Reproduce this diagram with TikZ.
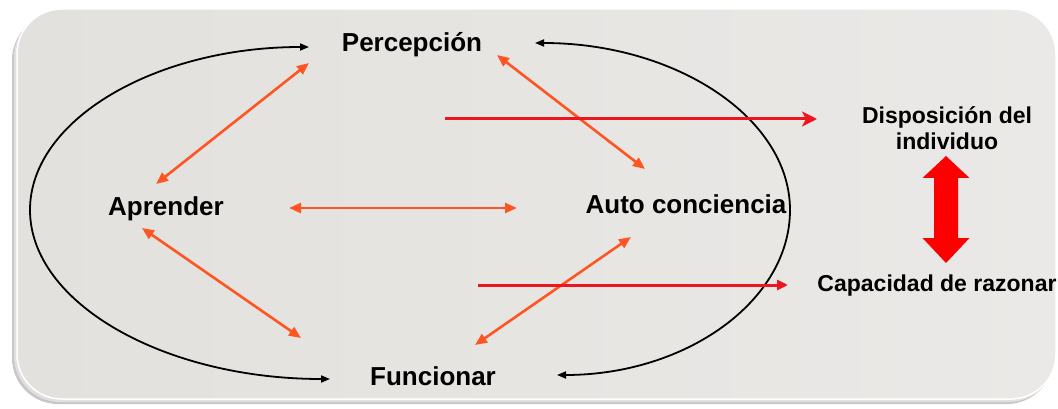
\documentclass[tikz,border=0pt]{standalone}
\usepackage{fontspec}
\setmainfont{Liberation Sans}
\usetikzlibrary{arrows.meta}
\definecolor{panelgray}{RGB}{227,225,221}
\definecolor{panellight}{RGB}{234,233,231}
\definecolor{arrorange}{RGB}{255,85,35}
\definecolor{arrred}{RGB}{238,22,30}
\begin{document}
\begin{tikzpicture}[x=1pt,y=-1pt,
    lbl/.style={font=\fontsize{26}{31}\selectfont\bfseries,inner sep=0pt},
    lblsmall/.style={font=\fontsize{23}{26}\selectfont\bfseries,inner sep=0pt,align=center},
    cycle/.style={{Triangle[length=9pt,width=7pt]}-{Triangle[length=9pt,width=7pt]},line width=1.8pt,black},
    link/.style={{Triangle[length=12pt,width=10pt]}-{Triangle[length=12pt,width=10pt]},line width=2.6pt,arrorange},
    towards/.style={-{Stealth[length=15pt,width=15pt,inset=4pt]},line width=3pt,arrred}]
        \useasboundingbox (0,0) rectangle (1058,409);
        \fill[white] (0,0) rectangle (1058,409);
        %panel
        \fill[black!22,rounded corners=46] (12,14) rectangle (1053,404);
        \fill[black!12,rounded corners=46] (14,11) rectangle (1055,402);
        \shade[left color=panelgray,right color=panellight,rounded corners=45] (17,9) rectangle (1056,399);
        \draw[white,line width=1.5pt,rounded corners=45] (17,9) rectangle (1056,399);

        %labels
        \node[lbl,anchor=base] (perc) at (412,52) {Percepción};
        \node[lbl,anchor=base] (apr) at (166,215) {Aprender};
        \node[lbl,anchor=base] (auto) at (686,214) {Auto conciencia};
        \node[lbl,anchor=base] (func) at (433,385) {Funcionar};
        \node[lblsmall] (disp) at (947,128) {Disposición del\\individuo};
        \node[lblsmall,anchor=base] (cap) at (937,291) {Capacidad de razonar};

        %ends
        \coordinate (pa) at (309,63);  \coordinate (ap) at (156,184);
        \coordinate (aa) at (289,208); \coordinate (au) at (517,208);
        \coordinate (af) at (142,228); \coordinate (fa) at (301,338);
        \coordinate (fu) at (475,345); \coordinate (uf) at (631,237);
        \coordinate (pu) at (497,55);  \coordinate (up) at (645,169);
        \coordinate (d0) at (445,119); \coordinate (d1) at (817,119);
        \coordinate (c0) at (478,285); \coordinate (c1) at (788,285);

        %cycle
        \draw[cycle] (309,47) .. controls (155,47) and (30,120) .. (30,210)
            .. controls (30,303) and (164,379) .. (330,379);
        \draw[cycle] (535,43) .. controls (676,43) and (790,118) .. (790,210)
            .. controls (790,301) and (686,375) .. (557,375);

        \draw[link] (pa) -- (ap);
        \draw[link] (aa) -- (au);
        \draw[link] (af) -- (fa);
        \draw[link] (fu) -- (uf);
        \draw[link] (pu) -- (up);

        \draw[towards] (d0) -- (d1);
        \draw[towards,-{Triangle[length=11pt,width=10pt]}] (c0) -- (c1);

        %double arrow
        \fill[red] (946,156) -- (969.5,178) -- (958,178) -- (958,238) -- (969.5,238)
            -- (946,263) -- (922.5,238) -- (934,238) -- (934,178) -- (922.5,178) -- cycle;
    \end{tikzpicture}
\end{document}
